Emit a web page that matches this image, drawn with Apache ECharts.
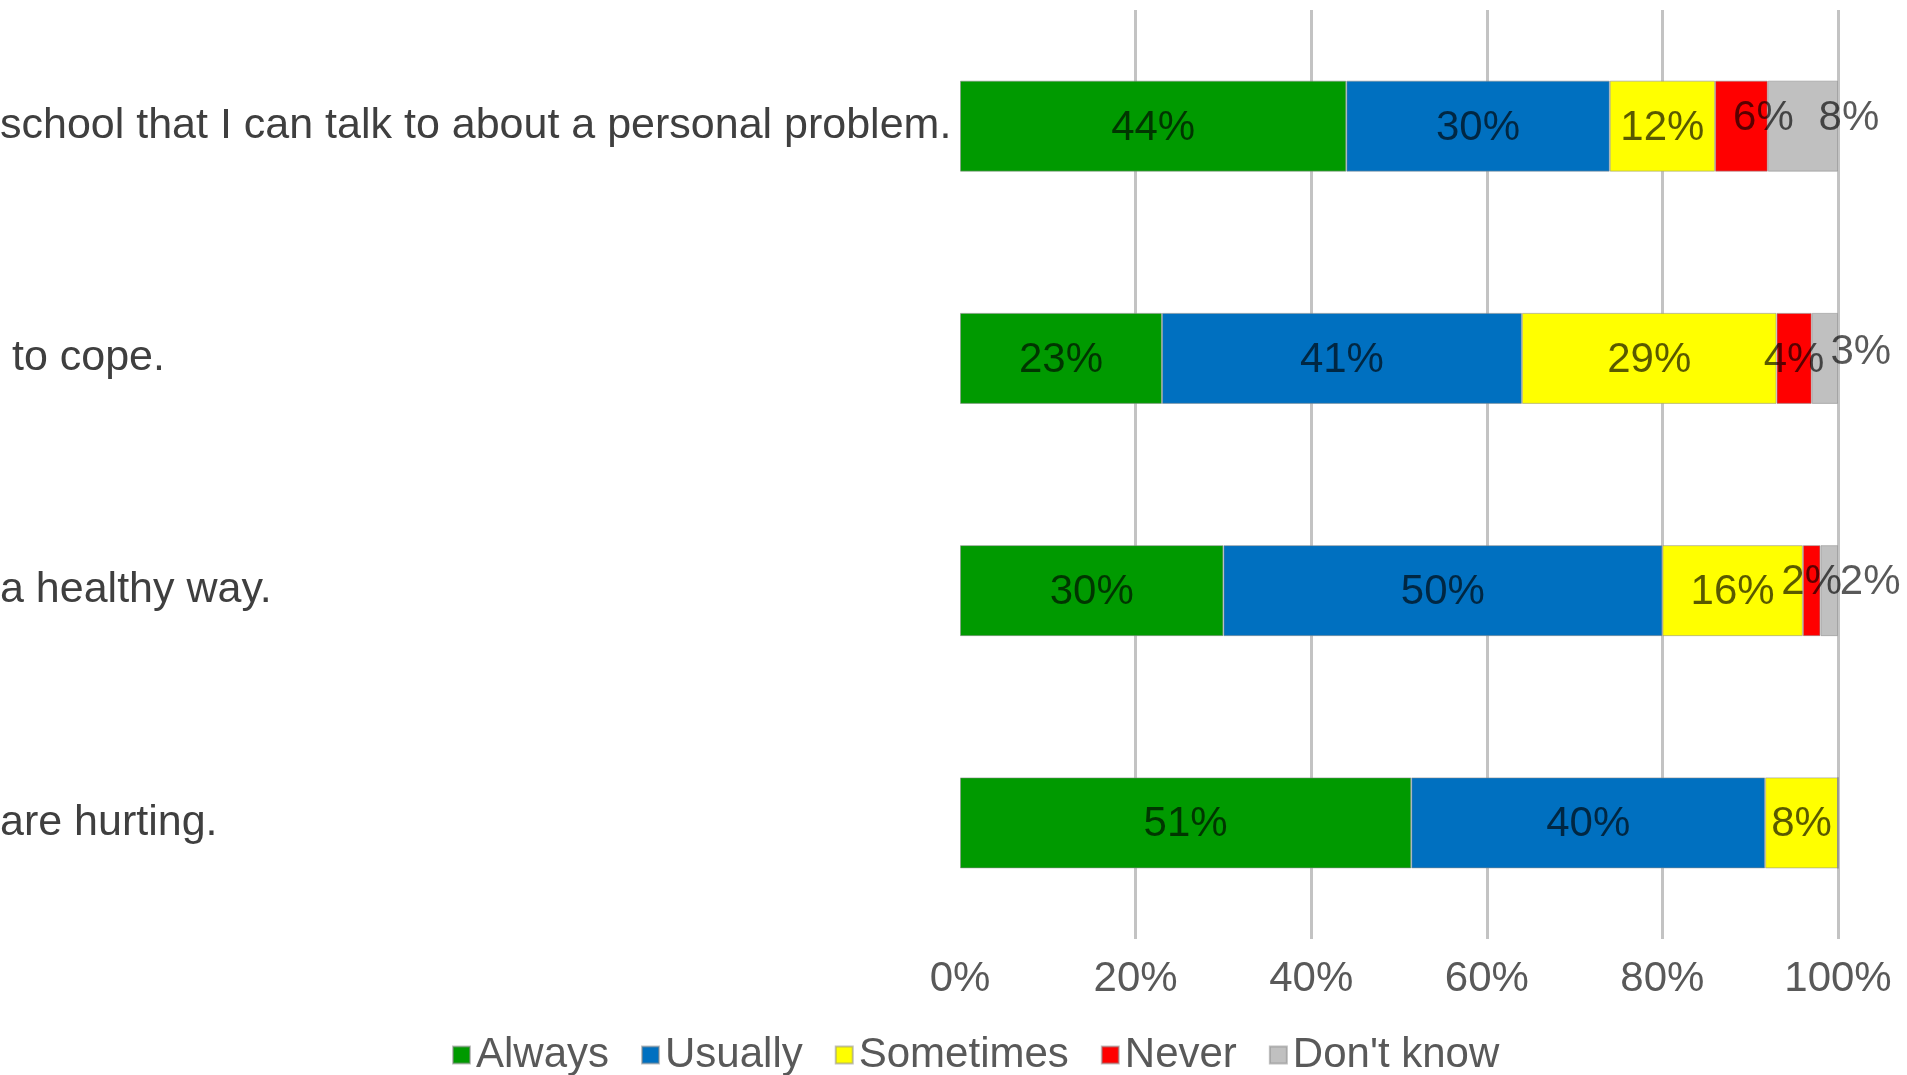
<!DOCTYPE html>
<html>
<head>
<meta charset="utf-8">
<script src="https://cdn.jsdelivr.net/npm/echarts@6/dist/echarts.min.js"></script>
<style>
html,body{margin:0;padding:0;background:#fff;}
#chart{width:1907px;height:1075px;}
</style>
</head>
<body>
<div id="chart"></div>
<script>
// Visible parts of the (cut-off) category labels, top to bottom
const categories = [
  "school that I can talk to about a personal problem.",
  " to cope.",
  "a healthy way.",
  "are hurting."
];
const seriesNames = ["Always", "Usually", "Sometimes", "Never", "Don't know"];
const always    = [44, 23, 30, 51.4];
const usually   = [30, 41, 50, 40.3];
const sometimes = [12, 29, 16, 8.3];
const never     = [6, 4, 2, 0];
const dontKnow  = [8, 3, 2, 0];
const xTicks = [0, 20, 40, 60, 80, 100];

const seriesValues = [always, usually, sometimes, never, dontKnow];
const colors = ["#009a00", "#0070c0", "#ffff00", "#ff0000", "#c0c0c0"];
// label nudges for the narrow segments (series index -> per-row [dx, dy])
const nudges = {
  3: [[22, -8], [0, 2], [0, -8], [0, 2]],
  4: [[46, -8], [36, -6], [41, -8], [0, 2]]
};
const FONT = "'Liberation Sans', Arial, sans-serif";

const chart = echarts.init(document.getElementById('chart'), null, {renderer: 'canvas'});
const series = seriesNames.map((name, si) => ({
  name: name,
  type: 'bar',
  stack: 'total',
  barWidth: 91,
  itemStyle: { color: colors[si], borderColor: 'rgba(140,140,140,0.55)', borderWidth: 1 },
  label: {
    show: true,
    position: 'inside',
    offset: [0, 2],
    fontFamily: FONT,
    fontSize: 42,
    color: 'rgba(0,0,0,0.65)',
    formatter: p => p.value > 0 ? Math.round(p.value) + '%' : ''
  },
  data: seriesValues[si].map((v, ri) => {
    const item = { value: v };
    if (nudges[si]) item.label = { offset: nudges[si][ri] };
    return item;
  })
}));

chart.setOption({
  animation: false,
  backgroundColor: '#ffffff',
  grid: { left: 960, right: 69, top: 10, bottom: 136, containLabel: false, outerBoundsMode: 'none' },
  legend: {
    data: seriesNames,
    left: 452,
    top: 1034,
    padding: 0,
    icon: 'rect',
    itemWidth: 17,
    itemHeight: 17,
    itemGap: 32,
    textStyle: { fontFamily: FONT, fontSize: 42, color: '#595959', padding: [0, 0, 0, 1] }
  },
  xAxis: {
    type: 'value',
    min: xTicks[0],
    max: xTicks[xTicks.length - 1],
    interval: xTicks[1] - xTicks[0],
    axisLine: { show: false },
    axisTick: { show: false },
    splitLine: { show: true, showMinLine: false, lineStyle: { color: '#c3c3c3', width: 3 } },
    axisLabel: {
      margin: 19,
      fontFamily: FONT,
      fontSize: 42,
      color: '#595959',
      formatter: v => v + '%'
    }
  },
  yAxis: {
    type: 'category',
    inverse: true,
    data: categories,
    axisLine: { show: false },
    axisTick: { show: false },
    axisLabel: {
      align: 'left',
      margin: 960,
      fontFamily: FONT,
      fontSize: 43,
      padding: [5, 0, 0, 0],
      color: '#3f3f3f'
    }
  },
  series: series
});
</script>
</body>
</html>
